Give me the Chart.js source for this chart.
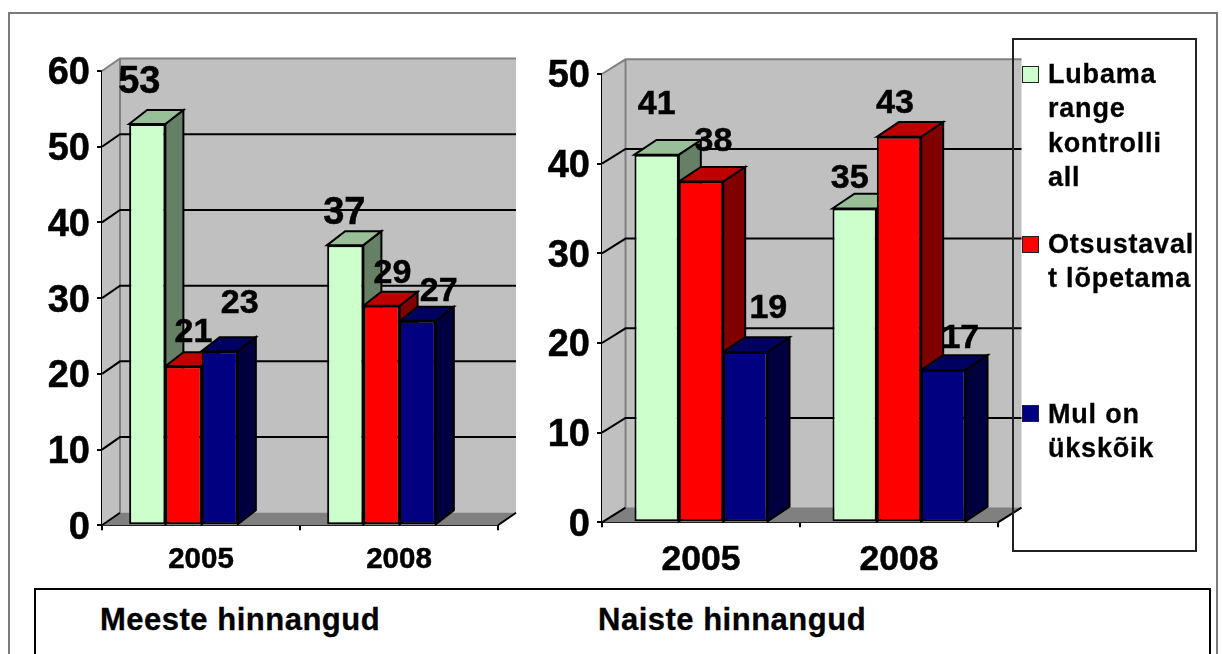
<!DOCTYPE html>
<html>
<head>
<meta charset="utf-8">
<script src="https://cdn.jsdelivr.net/npm/chart.js@4"></script>
<style>
html,body{margin:0;padding:0;background:#fff;overflow:hidden}
body{width:1222px;height:654px;position:relative;font-family:"Liberation Sans",Arial,sans-serif;font-weight:bold;color:#000}
#frame{position:absolute;left:8px;top:12px;width:1210px;height:660px;border:2px solid #7a7a7a;box-sizing:border-box}
canvas{position:absolute;top:0}
#c1{left:0}
#c2{left:500px}
#legend{position:absolute;left:1012px;top:38px;width:185px;height:514px;border:2px solid #222;box-sizing:border-box}
.sw{position:absolute;left:1022px;width:16.5px;height:16.5px;border:1.5px solid #222;box-sizing:border-box}
.lt{position:absolute;left:1048px;font-size:27px;line-height:34.4px;white-space:pre;letter-spacing:.8px;-webkit-text-stroke:.3px #000}
#notes{position:absolute;left:34px;top:588px;width:1177px;height:90px;border:2px solid #000;box-sizing:border-box}
.note{position:absolute;top:601px;font-size:31px;line-height:38px;white-space:pre;letter-spacing:.5px;-webkit-text-stroke:.3px #000}
</style>
</head>
<body>
<div id="frame"></div>
<canvas id="c1" width="530" height="585"></canvas>
<canvas id="c2" width="530" height="585"></canvas>
<div id="legend"></div>
<div id="notes"></div>
<div class="note" style="left:100px">Meeste hinnangud</div>
<div class="note" style="left:598px">Naiste hinnangud</div>
<script>
const categories = ['2005', '2008'];
const seriesNames = ['Lubama range kontrolli all', 'Otsustavalt lõpetama', 'Mul on ükskõik'];
const menLubama = [53, 37];
const menOtsustavalt = [21, 29];
const menUkskoik = [23, 27];
const womenLubama = [41, 35];
const womenOtsustavalt = [38, 43];
const womenUkskoik = [19, 17];
const menTicks = [0, 10, 20, 30, 40, 50, 60];
const womenTicks = [0, 10, 20, 30, 40, 50];
const legendLines = [['Lubama', 'range', 'kontrolli', 'all'], ['Otsustaval', 't lõpetama'], ['Mul on', 'ükskõik']];

const FONT = '"Liberation Sans", Arial, sans-serif';
const palette = [
  {front: '#CCFFCC', top: '#99BF99', side: '#668066'},
  {front: '#FF0000', top: '#BF0000', side: '#800000'},
  {front: '#000080', top: '#000060', side: '#000040'}
];

const legendTops = [57, 227, 397];
const legendSwatches = [66, 236, 405];
legendLines.forEach((lines, i) => {
  const t = document.createElement('div');
  t.className = 'lt'; t.style.top = legendTops[i] + 'px'; t.textContent = lines.join('\n');
  document.body.appendChild(t);
  const s = document.createElement('div');
  s.className = 'sw'; s.style.top = legendSwatches[i] + 'px'; s.style.background = palette[i].front;
  document.body.appendChild(s);
});

const box3d = {
  id: 'box3d',
  afterDatasetsUpdate(chart, args, o) {
    chart.getSortedVisibleDatasetMetas().forEach(m => m.data.forEach(el => { el.x += o.shift; }));
  },
  beforeDatasetsDraw(chart, args, o) {
    const {ctx, chartArea: a, scales: {y}} = chart;
    const bx = o.dx, by = o.dy;
    ctx.save();
    // back and side walls
    ctx.fillStyle = '#C0C0C0';
    ctx.beginPath();
    ctx.moveTo(a.left, a.top); ctx.lineTo(a.left + bx, a.top - by);
    ctx.lineTo(a.right + bx, a.top - by); ctx.lineTo(a.right + bx, a.bottom - by);
    ctx.lineTo(a.left, a.bottom); ctx.closePath(); ctx.fill();
    // floor
    ctx.fillStyle = '#808080';
    ctx.beginPath();
    ctx.moveTo(a.left, a.bottom); ctx.lineTo(a.left + bx, a.bottom - by);
    ctx.lineTo(a.right + bx, a.bottom - by); ctx.lineTo(a.right, a.bottom); ctx.closePath(); ctx.fill();
    // wall outlines
    ctx.strokeStyle = '#808080'; ctx.lineWidth = 2;
    ctx.beginPath();
    ctx.moveTo(a.left, a.top); ctx.lineTo(a.left + bx, a.top - by); ctx.lineTo(a.right + bx, a.top - by);
    ctx.moveTo(a.left + bx, a.top - by); ctx.lineTo(a.left + bx, a.bottom - by);
    ctx.stroke();
    // grid lines
    ctx.strokeStyle = '#000'; ctx.lineWidth = 2;
    y.ticks.forEach(t => {
      if (t.value === y.max) return;
      const py = y.getPixelForValue(t.value);
      ctx.beginPath();
      ctx.moveTo(a.left, py); ctx.lineTo(a.left + bx, py - by);
      if (t.value !== 0) ctx.lineTo(a.right + bx, py - by);
      else { ctx.moveTo(a.right + bx, py - by); ctx.lineTo(a.right, py); }
      ctx.stroke();
    });
    // side and top faces of the bars, series by series; the library draws the fronts afterwards
    ctx.strokeStyle = '#000'; ctx.lineWidth = 2; ctx.lineJoin = 'miter';
    chart.data.datasets.forEach((ds, i) => {
      const col = palette[i];
      chart.getDatasetMeta(i).data.forEach(el => {
        const p = el.getProps(['x', 'y', 'base', 'width'], true);
        const l = p.x - p.width / 2, r = p.x + p.width / 2;
        ctx.fillStyle = col.side;
        ctx.beginPath();
        ctx.moveTo(r, p.y); ctx.lineTo(r + o.bx, p.y - o.by);
        ctx.lineTo(r + o.bx, p.base - o.by); ctx.lineTo(r, p.base); ctx.closePath();
        ctx.fill(); ctx.stroke();
        ctx.fillStyle = col.top;
        ctx.beginPath();
        ctx.moveTo(l, p.y); ctx.lineTo(l + o.bx, p.y - o.by);
        ctx.lineTo(r + o.bx, p.y - o.by); ctx.lineTo(r, p.y); ctx.closePath();
        ctx.fill(); ctx.stroke();
      });
    });
    ctx.restore();
  },
  afterDatasetsDraw(chart, args, o) {
    const {ctx} = chart;
    ctx.save();
    ctx.fillStyle = '#000'; ctx.strokeStyle = '#000'; ctx.lineWidth = .5;
    ctx.textAlign = 'center'; ctx.textBaseline = 'middle';
    chart.data.datasets.forEach((ds, i) => {
      const meta = chart.getDatasetMeta(i);
      ctx.font = 'bold ' + o.labelSizes[i] + 'px ' + FONT;
      meta.data.forEach((el, j) => {
        const n = o.nudges[i][j];
        ctx.fillText(String(ds.data[j]), el.x + n[0], el.y + n[1]);
        ctx.strokeText(String(ds.data[j]), el.x + n[0], el.y + n[1]);
      });
    });
    ctx.restore();
  }
};

function makeChart(id, vals, ticks, opt) {
  return new Chart(document.getElementById(id), {
    type: 'bar',
    plugins: [box3d],
    data: {
      labels: categories,
      datasets: vals.map((v, i) => ({
        label: seriesNames[i], data: v, clip: false,
        backgroundColor: palette[i].front, borderColor: '#000', borderWidth: 2, borderSkipped: false,
        categoryPercentage: opt.catPct, barPercentage: 1
      }))
    },
    options: {
      responsive: false, animation: false,
      layout: {padding: {top: opt.top, right: 530 - opt.right, left: 0, bottom: 0}},
      plugins: {
        legend: {display: false}, tooltip: {enabled: false}, title: {display: false},
        box3d: opt.box
      },
      scales: {
        x: {
          grid: {drawOnChartArea: false, color: '#000', tickLength: 5, lineWidth: 2},
          border: {display: true, color: '#000', width: 2},
          ticks: {color: '#000', padding: opt.xPad, maxRotation: 0, textStrokeWidth: .5, textStrokeColor: '#000', font: {family: FONT, weight: 'bold', size: opt.xFont}},
          afterFit(s) { s.height = 585 - opt.bottom; }
        },
        y: {
          min: 0, max: ticks[ticks.length - 1],
          afterBuildTicks(s) { s.ticks = ticks.map(v => ({value: v})); },
          grid: {drawOnChartArea: false, color: '#000', tickLength: 5, lineWidth: 2},
          border: {display: true, color: '#000', width: 2},
          ticks: {color: '#000', padding: 7, labelOffset: 3, textStrokeWidth: .5, textStrokeColor: '#000', font: {family: FONT, weight: 'bold', size: opt.yFont}},
          afterFit(s) { s.width = opt.left; }
        }
      }
    }
  });
}

makeChart('c1', [menLubama, menOtsustavalt, menUkskoik], menTicks, {
  left: 102, right: 498, top: 71, bottom: 525.3, catPct: 0.549, xFont: 29.5, yFont: 38, xPad: 12,
  box: {shift: -17.5, dx: 18, dy: 12.5, bx: 18, by: 14,
    labelSizes: [38, 34, 34],
    nudges: [[[-8, -41], [-1, -32]], [[10, -34], [11, -32]], [[20, -48], [21, -29]]]}
});
makeChart('c2', [womenLubama, womenOtsustavalt, womenUkskoik], womenTicks, {
  left: 102, right: 498, top: 74, bottom: 522.3, catPct: 0.672, xFont: 35.5, yFont: 38, xPad: 12,
  box: {shift: 0, dx: 23.5, dy: 14.7, bx: 22, by: 14.7,
    labelSizes: [34, 34, 34],
    nudges: [[[0, -50], [-5, -30]], [[12.5, -40], [-4, -33]], [[23, -43], [17, -31]]]}
});
</script>
</body>
</html>
